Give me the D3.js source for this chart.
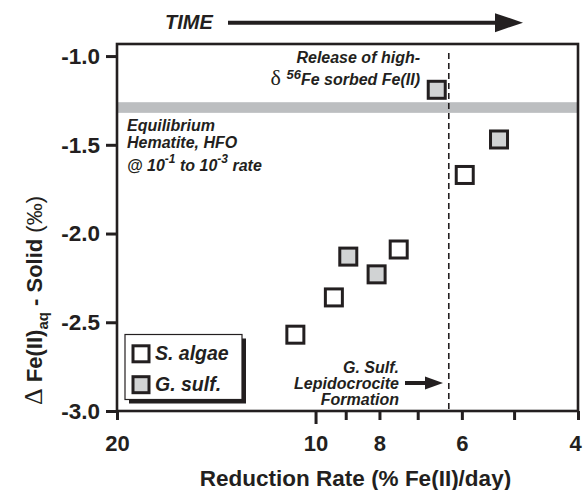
<!DOCTYPE html>
<html>
<head>
<meta charset="utf-8">
<script src="https://cdn.jsdelivr.net/npm/d3@7"></script>
<style>
  html, body { margin: 0; padding: 0; background: #fff; }
  svg { display: block; }
  text { font-family: Arial, "Liberation Sans", Helvetica, sans-serif; fill: #231f20; }
</style>
</head>
<body>
<svg id="chart" width="583" height="490"></svg>
<script>
// ---- data ----
const rateSAlgae = [10.73, 9.38, 7.48, 5.94];
const fracSAlgae = [-2.57, -2.36, -2.09, -1.67];
const rateGSulf = [8.92, 8.08, 6.55, 5.27];
const fracGSulf = [-2.13, -2.23, -1.19, -1.47];
const xTickValues = [20, 10, 9, 8, 7, 6, 5, 4];
const xTickLabels = ["20", "10", "", "8", "", "6", "", "4"];
const yTickValues = [-1.0, -1.5, -2.0, -2.5, -3.0];
const equilibriumBand = [-1.26, -1.32];
const lepidocrociteRate = 6.28;
const legendLabels = ["S. algae", "G. sulf."];

const dark = "#231f20", bandGray = "#bcbec0", fillGray = "#d1d3d4";

const svg = d3.select("#chart");
const pLeft = 117, pRight = 578, pTop = 44, pBottom = 411;
const x = d3.scaleLog().domain([20, 4]).range([pLeft, pRight]);
const y = d3.scaleLinear().domain([-3.0, -0.932]).range([pBottom, pTop]);

// equilibrium band
svg.append("rect")
  .attr("x", pLeft).attr("width", pRight - pLeft)
  .attr("y", y(equilibriumBand[0])).attr("height", y(equilibriumBand[1]) - y(equilibriumBand[0]))
  .attr("fill", bandGray);

// dashed line
svg.append("line")
  .attr("x1", x(lepidocrociteRate)).attr("x2", x(lepidocrociteRate))
  .attr("y1", pTop + 9).attr("y2", pBottom)
  .attr("stroke", dark).attr("stroke-width", 1.6).attr("stroke-dasharray", "6,4");

// box
svg.append("rect")
  .attr("x", pLeft).attr("y", pTop).attr("width", pRight - pLeft).attr("height", pBottom - pTop)
  .attr("fill", "none").attr("stroke", dark).attr("stroke-width", 2.6);

// y axis
const yAxis = svg.append("g").attr("transform", `translate(${pLeft},0)`)
  .call(d3.axisLeft(y).tickValues(yTickValues).tickFormat(d => d.toFixed(1)).tickSize(11).tickPadding(6).tickSizeOuter(0));
yAxis.select(".domain").remove();
yAxis.selectAll(".tick line").attr("stroke", dark).attr("stroke-width", 3);
yAxis.selectAll(".tick text").attr("font-size", 22.5).attr("font-weight", "bold")
  .attr("font-family", "Arial, 'Liberation Sans', sans-serif").attr("fill", dark);

// x axis
const xAxis = svg.append("g").attr("transform", `translate(0,${pBottom})`)
  .call(d3.axisBottom(x).tickValues(xTickValues).tickFormat((d, i) => xTickLabels[i]).tickSize(9).tickSizeOuter(0));
xAxis.select(".domain").remove();
xAxis.selectAll(".tick line").attr("stroke", dark).attr("stroke-width", 3)
  .attr("y2", d => d === 10 ? 13 : 9);
xAxis.selectAll(".tick text").attr("font-size", 22).attr("font-weight", "bold")
  .attr("font-family", "Arial, 'Liberation Sans', sans-serif").attr("fill", dark)
  .attr("y", 40).attr("dy", null)
  .attr("x", d => d === 4 ? -3 : 0);

// axis titles
svg.append("text").attr("x", (198 + 513) / 2).attr("y", 486)
  .attr("text-anchor", "middle").attr("font-size", 22.5).attr("font-weight", "bold")
  .text("Reduction Rate (% Fe(II)/day)");

const yt = svg.append("text").attr("transform", "translate(42,405) rotate(-90)")
  .attr("text-anchor", "start").attr("font-size", 22).attr("font-weight", "bold");
yt.append("tspan").attr("font-family", "'Liberation Serif', 'DejaVu Serif', serif").attr("font-weight", "normal").attr("font-size", 26).text("\u0394");
yt.append("tspan").text(" Fe(II)");
yt.append("tspan").attr("font-size", 15).attr("dy", 6).text("aq");
yt.append("tspan").attr("dy", -6).text(" - Solid");
yt.append("tspan").attr("font-weight", "normal").attr("font-size", 22).text("  (\u2030)");

// TIME arrow
svg.append("text").attr("x", 165).attr("y", 29).attr("font-size", 20)
  .attr("font-weight", "bold").attr("font-style", "italic").text("TIME");
svg.append("line").attr("x1", 228).attr("x2", 500).attr("y1", 22.7).attr("y2", 22.7)
  .attr("stroke", dark).attr("stroke-width", 4);
svg.append("path").attr("d", "M495,13.2 L523,22.7 L495,32.2 Z").attr("fill", dark);

// annotations
const ann = (xp, yp, anchor, size) => svg.append("text").attr("x", xp).attr("y", yp)
  .attr("text-anchor", anchor).attr("font-size", size)
  .attr("font-weight", "bold").attr("font-style", "italic");

ann(420, 63, "end", 16).text("Release of high-");
const r2 = ann(420, 85, "end", 16);
r2.append("tspan").attr("font-family", "'Liberation Serif', 'DejaVu Serif', serif")
  .attr("font-weight", "normal").attr("font-style", "normal").attr("font-size", 22).text("\u03b4 ");
r2.append("tspan").attr("font-size", 13).attr("dy", -6).text("56");
r2.append("tspan").attr("dy", 6).text("Fe sorbed Fe(II)");

ann(127, 131, "start", 16).text("Equilibrium");
ann(127, 148, "start", 16).text("Hematite, HFO");
const e3 = ann(127, 170.7, "start", 16);
e3.append("tspan").text("@ 10");
e3.append("tspan").attr("font-size", 12).attr("dy", -8).text("-1");
e3.append("tspan").attr("dy", 8).text(" to 10");
e3.append("tspan").attr("font-size", 12).attr("dy", -8).text("-3");
e3.append("tspan").attr("dy", 8).text(" rate");

ann(399, 373, "end", 16).text("G. Sulf.");
ann(399, 389, "end", 16).text("Lepidocrocite");
ann(399, 404.5, "end", 16).text("Formation");
svg.append("line").attr("x1", 405).attr("x2", 430).attr("y1", 383).attr("y2", 383)
  .attr("stroke", dark).attr("stroke-width", 4);
svg.append("path").attr("d", "M425,376.5 L443,383 L425,389.5 Z").attr("fill", dark);

// points
const sq = 17;
const drawPts = (rates, fracs, fill) => svg.append("g").selectAll("rect")
  .data(rates.map((r, i) => [r, fracs[i]])).join("rect")
  .attr("x", d => x(d[0]) - sq / 2).attr("y", d => y(d[1]) - sq / 2)
  .attr("width", sq).attr("height", sq)
  .attr("fill", fill).attr("stroke", dark).attr("stroke-width", 3);
drawPts(rateSAlgae, fracSAlgae, "#fff");
drawPts(rateGSulf, fracGSulf, fillGray);

// legend
const lg = svg.append("g");
lg.append("rect").attr("x", 129).attr("y", 338.5).attr("width", 117).attr("height", 65).attr("fill", dark);
lg.append("rect").attr("x", 125).attr("y", 334.5).attr("width", 117).attr("height", 65)
  .attr("fill", "#fff").attr("stroke", dark).attr("stroke-width", 1.2);
const legFills = ["#fff", fillGray];
const legY = [353.8, 384.7];
legendLabels.forEach((lab, i) => {
  lg.append("rect").attr("x", 133).attr("y", legY[i] - 8).attr("width", 16).attr("height", 16)
    .attr("fill", legFills[i]).attr("stroke", dark).attr("stroke-width", 3);
  lg.append("text").attr("x", 155).attr("y", legY[i] + 6).attr("font-size", 19.5)
    .attr("font-weight", "bold").attr("font-style", "italic").text(lab);
});
</script>
</body>
</html>
